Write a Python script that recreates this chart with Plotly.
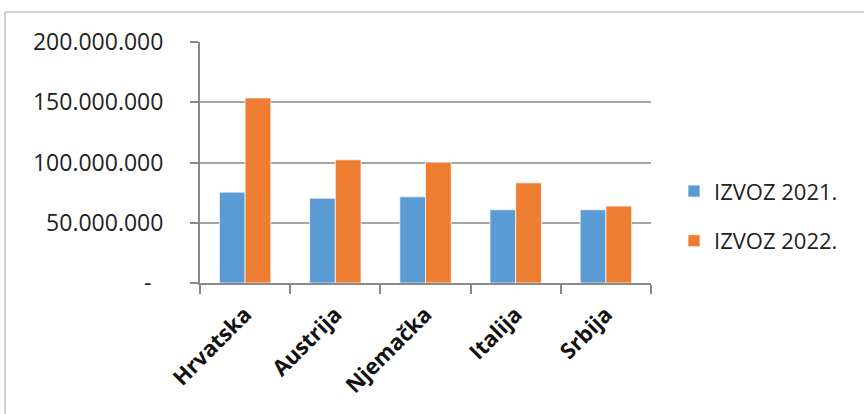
import plotly.graph_objects as go

categories = ["Hrvatska", "Austrija", "Njemačka", "Italija", "Srbija"]
izvoz_2021 = [75_400_000, 70_400_000, 71_500_000, 60_800_000, 60_800_000]
izvoz_2022 = [153_600_000, 102_200_000, 100_300_000, 83_100_000, 63_800_000]
series_names = ["IZVOZ 2021.", "IZVOZ 2022."]
tick_values = [0, 50_000_000, 100_000_000, 150_000_000, 200_000_000]
tick_labels = ["-\u00a0\u00a0", "50.000.000", "100.000.000", "150.000.000", "200.000.000"]

BLUE = "#5B9BD5"
ORANGE = "#ED7D31"
FONT = "Open Sans"

fig = go.Figure()
fig.add_trace(go.Bar(x=categories, y=izvoz_2021, name=series_names[0],
                     marker=dict(color=BLUE, line=dict(color="rgba(255,255,255,0.7)", width=1)),
                     legendgroup="a"))
fig.add_trace(go.Bar(x=categories, y=izvoz_2022, name=series_names[1],
                     marker=dict(color=ORANGE, line=dict(color="rgba(255,255,255,0.7)", width=1)),
                     legendgroup="b"))

W, H = 864, 414
L, R, T, B = 200, 651, 42, 283.3
pw, ph = R - L, B - T

def px_x(x):
    return (x - L) / pw

def px_y(y):
    return (B - y) / ph

fig.update_layout(
    width=W, height=H,
    margin=dict(l=L, r=W - R, t=T, b=H - B, pad=0),
    paper_bgcolor="white", plot_bgcolor="white",
    barmode="group", bargap=0.43, bargroupgap=0,
    font=dict(family=FONT, color="#222222"),
    legend=dict(x=px_x(674), y=px_y(216.5), xanchor="left", yanchor="middle",
                font=dict(size=22, family=FONT, color="#222222"),
                traceorder="grouped", tracegroupgap=18, bgcolor="rgba(0,0,0,0)"),
    shapes=[dict(type="rect", xref="paper", yref="paper",
                 x0=px_x(5), x1=px_x(880), y0=px_y(430), y1=px_y(12),
                 line=dict(color="#a6a6a6", width=1), layer="below")],
)
fig.update_xaxes(
    type="category", showline=True, linecolor="#898989", linewidth=2,
    ticks="outside", tickson="boundaries", ticklen=9, tickcolor="#898989", tickwidth=1.5,
    tickangle=-45, tickfont=dict(family=FONT, size=22, color="#111111", weight="bold"),
    ticklabelstandoff=8,
    showgrid=False,
)
fig.update_yaxes(
    range=[0, 200_000_000], tickvals=tick_values, ticktext=tick_labels,
    showline=True, linecolor="#898989", linewidth=2,
    ticks="outside", ticklen=8, tickcolor="#898989", tickwidth=1.5,
    showgrid=True, gridcolor="#a6a6a6", gridwidth=1.5,
    tickfont=dict(family=FONT, size=23, color="#222222"), ticklabelstandoff=22,
    zeroline=False,
)

fig.write_html("out.html")
